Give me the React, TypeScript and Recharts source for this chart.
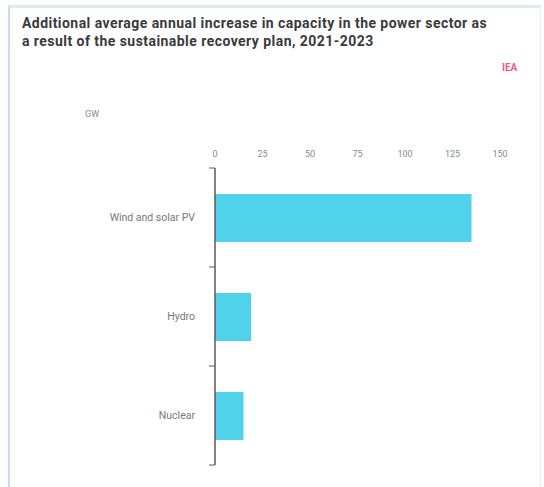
import { BarChart, Bar, XAxis, YAxis } from 'recharts'

const categories = ['Wind and solar PV', 'Hydro', 'Nuclear']
const capacityGW = [135, 19, 15]
const xTicks = [0, 25, 50, 75, 100, 125, 150]

const data = categories.map((name, i) => ({ name, value: capacityGW[i] }))

const CHART_H = 487
const MARGIN = { top: 148, right: 44, bottom: 22, left: 0 }
const X_AXIS_H = 20
const BAND = (CHART_H - MARGIN.top - MARGIN.bottom - X_AXIS_H) / categories.length
const TICK_OFFSET = 20 // default tickSize + tickMargin

const AXIS = '#5a5a5a'
const LABEL = '#8a8a8a'
const BAR = '#4fd2ea'

// category label plus short ticks at the band boundaries
function CategoryTick(props: any) {
  const { x, y, payload, index } = props
  const axisX = x + TICK_OFFSET
  const half = BAND / 2
  return (
    <g>
      <text x={x} y={y} dy="0.355em" textAnchor="end" fontSize={10.5} fill="#777">
        {payload.value}
      </text>
      <line x1={axisX - 6} x2={axisX} y1={y - half} y2={y - half} stroke={AXIS} />
      {index === categories.length - 1 && (
        <line x1={axisX - 6} x2={axisX} y1={y + half} y2={y + half} stroke={AXIS} />
      )}
    </g>
  )
}

export default function App() {
  return (
    <div
      style={{
        position: 'absolute',
        left: 0,
        top: 0,
        width: 544,
        height: 487,
        background: '#fff',
        fontFamily: 'Roboto, "Noto Sans", sans-serif',
        overflow: 'hidden'
      }}
    >
      {/* card frame */}
      <div
        style={{
          position: 'absolute',
          left: 8,
          top: 5,
          width: 530,
          height: 490,
          borderLeft: '2px solid #c9ddf0',
          borderTop: '3px solid #dcecef',
          borderRight: '1px solid #f1f1f1'
        }}
      />
      <div
        style={{
          position: 'absolute',
          left: 22,
          top: 14,
          width: 510,
          fontSize: 14,
          fontWeight: 700,
          letterSpacing: 0.45,
          lineHeight: '18px',
          color: '#3a3a3a',
          whiteSpace: 'nowrap'
        }}
      >
        Additional average annual increase in capacity in the power sector as
        <br />a result of the sustainable recovery plan, 2021-2023
      </div>
      <div
        style={{
          position: 'absolute',
          left: 502,
          top: 62,
          fontSize: 10,
          fontWeight: 700,
          color: '#e8598f'
        }}
      >
        IEA
      </div>
      <div style={{ position: 'absolute', left: 85, top: 109, fontSize: 9, color: LABEL }}>GW</div>

      <div style={{ position: 'absolute', left: 0, top: 0 }}>
        <BarChart width={544} height={CHART_H} data={data} layout="vertical" margin={MARGIN}>
          <XAxis
            type="number"
            orientation="top"
            domain={[0, 150]}
            ticks={xTicks}
            height={X_AXIS_H}
            axisLine={false}
            tickLine={false}
            tick={{ fontSize: 9, fill: LABEL, dy: -3 }}
          />
          <YAxis
            type="category"
            dataKey="name"
            width={215}
            axisLine={{ stroke: AXIS, strokeWidth: 1.5 }}
            tickLine={false}
            tickMargin={14}
            tick={<CategoryTick />}
          />
          <Bar dataKey="value" fill={BAR} barSize={48} isAnimationActive={false} />
        </BarChart>
      </div>
    </div>
  )
}
